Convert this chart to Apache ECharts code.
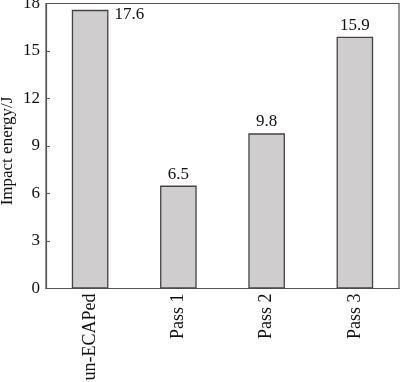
<!DOCTYPE html>
<html><head><meta charset="utf-8">
<script src="https://cdn.jsdelivr.net/npm/echarts@6/dist/echarts.min.js"></script>
<style>html,body{margin:0;padding:0;background:#fff}#c{width:400px;height:382px}</style>
</head><body><div id="c"></div>
<script>
const categories = ['un-ECAPed', 'Pass 1', 'Pass 2', 'Pass 3'];
const impactEnergy = [17.6, 6.5, 9.8, 15.9];
const yTicks = { min: 0, max: 18, interval: 3 };
const yName = 'Impact energy/J';

const font = '"Liberation Serif", "Times New Roman", Times, serif';
const chart = echarts.init(document.getElementById('c'), null, { renderer: 'canvas' });
chart.setOption({
  animation: false,
  backgroundColor: '#fff',
  grid: { left: 46, right: 1, top: 3.5, bottom: 93.5, show: true, borderColor: '#555', borderWidth: 1.2,
          containLabel: false, outerBoundsMode: 'none' },
  xAxis: {
    type: 'category',
    data: categories,
    axisLine: { lineStyle: { color: '#555', width: 1.2 } },
    axisTick: { show: false },
    axisLabel: { rotate: 90, margin: 5, color: '#111', fontFamily: font, fontSize: 18 }
  },
  yAxis: {
    type: 'value',
    min: yTicks.min, max: yTicks.max, interval: yTicks.interval,
    name: yName, nameLocation: 'middle', nameGap: 30, nameMoveOverlap: false,
    nameTextStyle: { color: '#111', fontFamily: font, fontSize: 17, padding: [0, 10, 0, 0] },
    axisLine: { show: true, lineStyle: { color: '#555', width: 1.2 } },
    axisTick: { show: true, inside: true, length: 4, lineStyle: { color: '#555' } },
    axisLabel: { margin: 6, color: '#111', fontFamily: font, fontSize: 17 },
    splitLine: { show: false }
  },
  series: [{
    type: 'bar',
    barWidth: '41.5%',
    data: impactEnergy.map((v, i) => i === 0 ? {
      value: v,
      label: { position: ['100%', 0], align: 'left', verticalAlign: 'middle', offset: [6, 5] }
    } : v),
    itemStyle: { color: '#cfcdcd', borderColor: '#444', borderWidth: 1.3 },
    label: { show: true, position: 'top', distance: 3, color: '#111', fontFamily: font, fontSize: 17 }
  }]
});
</script></body></html>
